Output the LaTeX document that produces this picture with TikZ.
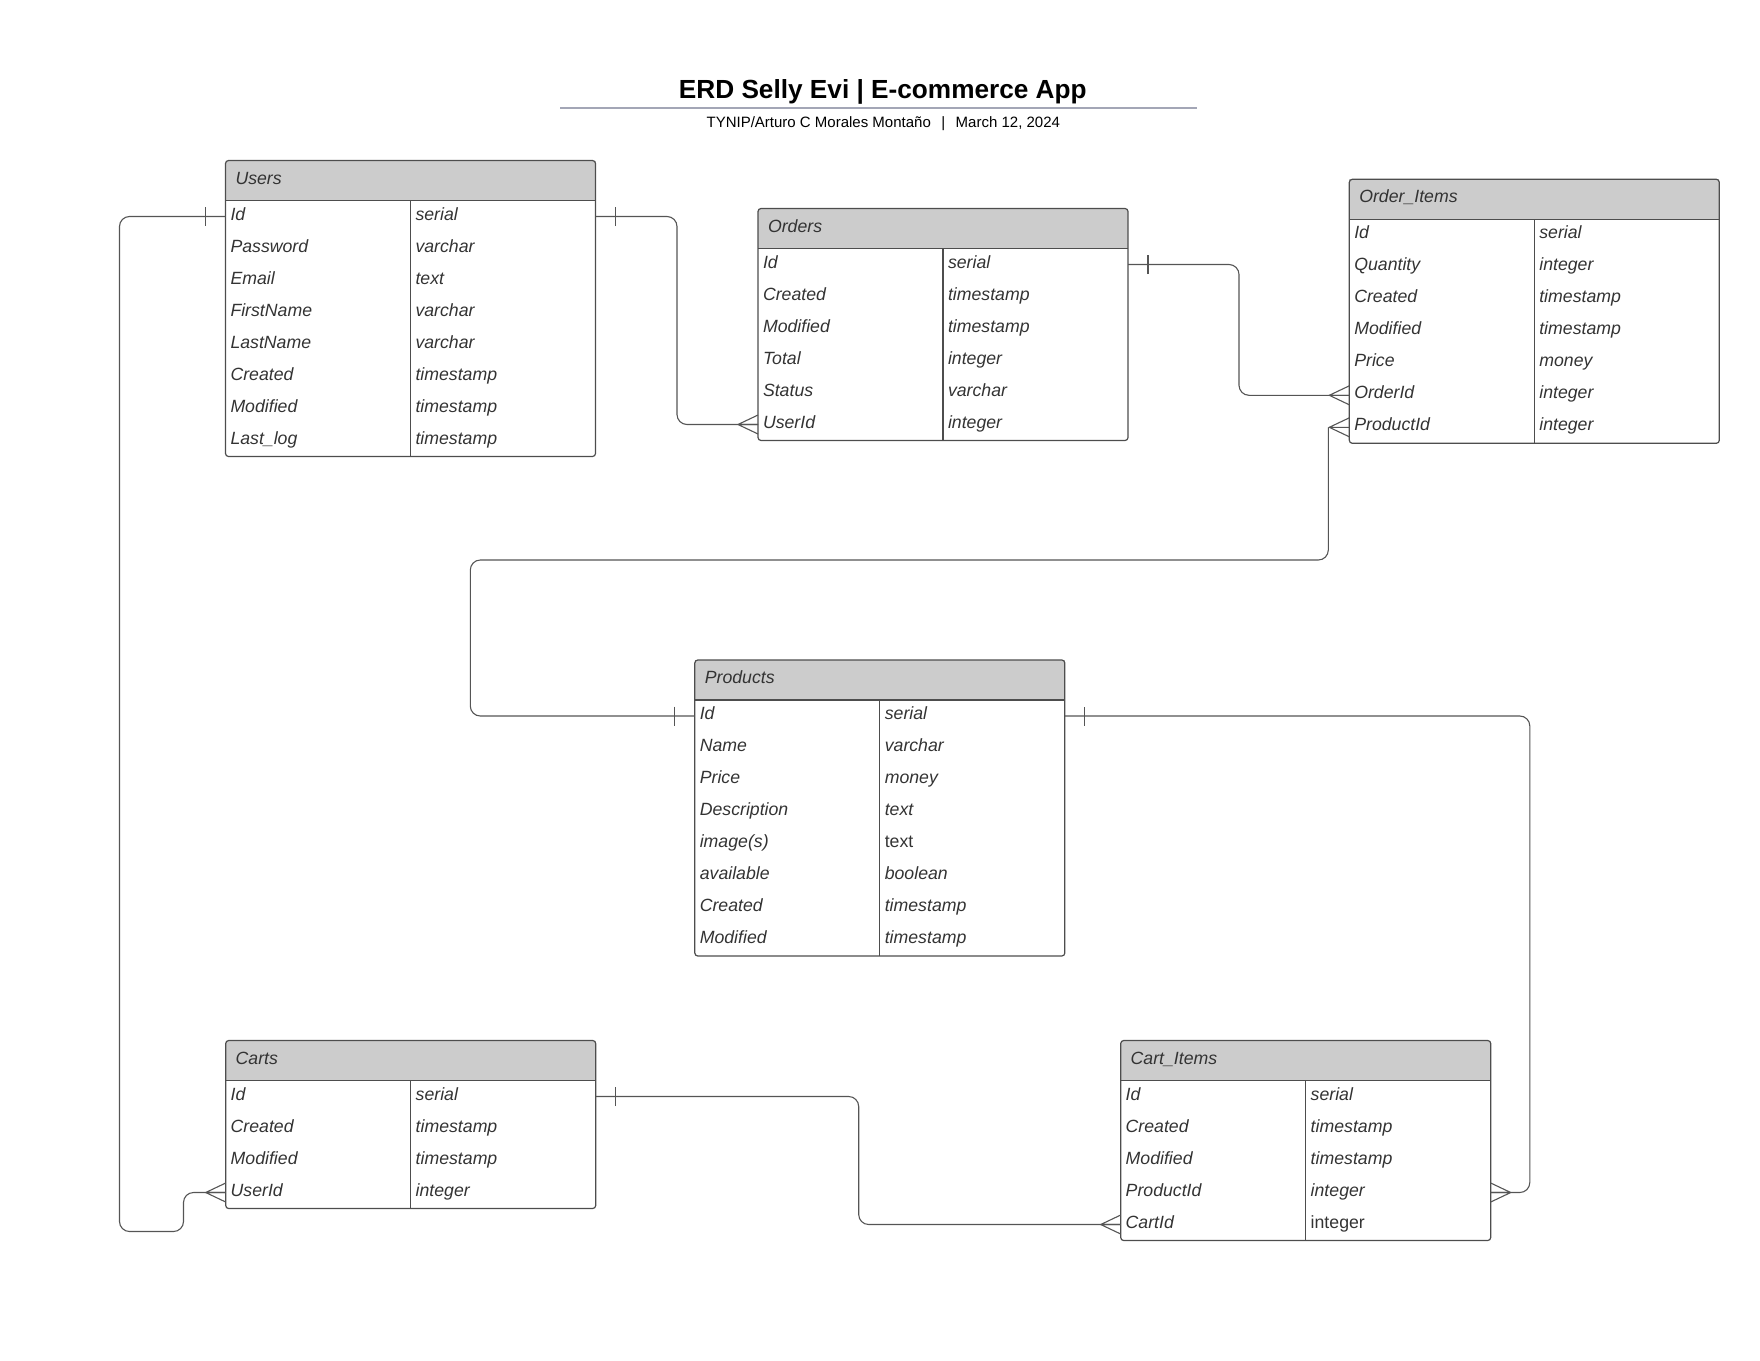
\documentclass[tikz,border=0pt]{standalone}
\usepackage{fontspec}
\setmainfont{Liberation Sans}
\usetikzlibrary{positioning, calc}

\definecolor{hdgray}{HTML}{CCCCCC}
\definecolor{ink}{HTML}{333333}
\definecolor{edge}{HTML}{4D4D4D}
\definecolor{wire}{HTML}{555555}
\definecolor{rulegray}{HTML}{A3A6B6}

\begin{document}
\begin{tikzpicture}[x=1pt, y=-1pt,
  every node/.style={font=\fontsize{17.7}{20}\selectfont\itshape, text=ink, outer sep=0pt},
  hd/.style={fill=hdgray, anchor=north west, minimum width=370pt, minimum height=40pt,
    inner xsep=10pt, inner ysep=0pt, text width=350pt, align=left, text height=13pt, text depth=6pt},
  fld/.style={anchor=north west, minimum width=185pt, minimum height=32pt,
    inner xsep=5pt, inner ysep=0pt, text width=175pt, align=left, text height=13pt, text depth=6pt},
  tblframe/.style={draw=edge, line width=1.2pt, rounded corners=3pt},
  rowline/.style={draw=edge, line width=1.2pt},
  conn/.style={draw=wire, line width=1.1pt, rounded corners=10pt},
  crow/.style={draw=wire, line width=1.1pt},
  onemark/.pic={\draw[crow] (-20,-9.5) -- (-20,9.5);},
  manymark/.pic={\draw[crow] (0,-9.5) -- (-20,0) -- (0,9.5) (-20,0) -- (0,0);}]
\useasboundingbox (0,0) rectangle (1760,1360);

% title block
\node[font=\fontsize{26.2}{30}\selectfont\bfseries, text=black, anchor=base] (title) at (882.8,98) {ERD Selly Evi | E-commerce App};
\draw[rulegray, line width=2pt] (560,107.8) -- (1196.5,107.8);
\node[font=\fontsize{15}{18}\selectfont, text=black, anchor=base] (sub) at (883.3,127) {TYNIP/Arturo C Morales Montaño\hspace{10.5pt}|\hspace{10.5pt}March 12, 2024};

% Users
\node[hd] (users) at (225.5,160.5) {Users};
\foreach \f/\t [count=\i] in {Id/serial, Password/varchar, Email/text, FirstName/varchar,
  LastName/varchar, Created/timestamp, Modified/timestamp, Last\_log/timestamp} {
  \node[fld] (users-f\i) at ($(users.south west)+(0,{32*(\i-1)})$) {\f};
  \node[fld] (users-t\i) at (users-f\i.north east) {\t};
}
\draw[tblframe] (users.north west) rectangle (users-t8.south east);
\draw[rowline] (users.south west) -- (users.south east) (users-t1.north west) -- (users-t8.south west);

% Orders
\node[hd] (orders) at (758,208.5) {Orders};
\foreach \f/\t [count=\i] in {Id/serial, Created/timestamp, Modified/timestamp, Total/integer,
  Status/varchar, UserId/integer} {
  \node[fld] (orders-f\i) at ($(orders.south west)+(0,{32*(\i-1)})$) {\f};
  \node[fld] (orders-t\i) at (orders-f\i.north east) {\t};
}
\draw[tblframe] (orders.north west) rectangle (orders-t6.south east);
\draw[rowline] (orders.south west) -- (orders.south east) (orders-t1.north west) -- (orders-t6.south west);

% Order_Items
\node[hd] (oi) at (1349.3,179.3) {Order\_Items};
\foreach \f/\t [count=\i] in {Id/serial, Quantity/integer, Created/timestamp, Modified/timestamp,
  Price/money, OrderId/integer, ProductId/integer} {
  \node[fld] (oi-f\i) at ($(oi.south west)+(0,{32*(\i-1)})$) {\f};
  \node[fld] (oi-t\i) at (oi-f\i.north east) {\t};
}
\draw[tblframe] (oi.north west) rectangle (oi-t7.south east);
\draw[rowline] (oi.south west) -- (oi.south east) (oi-t1.north west) -- (oi-t7.south west);

% Products
\node[hd] (products) at (694.8,660) {Products};
\foreach \f/\t [count=\i] in {Id/serial, Name/varchar, Price/money, Description/text,
  {image(s)}/{\upshape text}, available/boolean, Created/timestamp, Modified/timestamp} {
  \node[fld] (products-f\i) at ($(products.south west)+(0,{32*(\i-1)})$) {\f};
  \node[fld] (products-t\i) at (products-f\i.north east) {\t};
}
\draw[tblframe] (products.north west) rectangle (products-t8.south east);
\draw[rowline] (products.south west) -- (products.south east) (products-t1.north west) -- (products-t8.south west);

% Carts
\node[hd] (carts) at (225.7,1040.5) {Carts};
\foreach \f/\t [count=\i] in {Id/serial, Created/timestamp, Modified/timestamp, UserId/integer} {
  \node[fld] (carts-f\i) at ($(carts.south west)+(0,{32*(\i-1)})$) {\f};
  \node[fld] (carts-t\i) at (carts-f\i.north east) {\t};
}
\draw[tblframe] (carts.north west) rectangle (carts-t4.south east);
\draw[rowline] (carts.south west) -- (carts.south east) (carts-t1.north west) -- (carts-t4.south west);

% Cart_Items
\node[hd] (ci) at (1120.7,1040.5) {Cart\_Items};
\foreach \f/\t [count=\i] in {Id/serial, Created/timestamp, Modified/timestamp, ProductId/integer,
  CartId/{\upshape integer}} {
  \node[fld] (ci-f\i) at ($(ci.south west)+(0,{32*(\i-1)})$) {\f};
  \node[fld] (ci-t\i) at (ci-f\i.north east) {\t};
}
\draw[tblframe] (ci.north west) rectangle (ci-t5.south east);
\draw[rowline] (ci.south west) -- (ci.south east) (ci-t1.north west) -- (ci-t5.south west);

% relations
\draw[conn] (users-f1.west) -| (119.5,1231.5) -- (183.5,1231.5) |- (carts-f4.west);
\draw[conn] (users-t1.east) -- ++(81.5,0) |- (orders-f6.west);
\draw[conn] (orders-t1.east) -- ++(111,0) |- (oi-f6.west);
\draw[conn] ($(oi-f7.west)+(-21,0)$) |- (470.3,560) |- (products-f1.west);
\draw[conn] (products-t1.east) -- ++(465,0) |- (ci-t4.east);
\draw[conn] (carts-t1.east) -- ++(263,0) |- (ci-f5.west);

\pic at (users-f1.west) {onemark};
\pic[rotate=180] at (users-t1.east) {onemark};
\pic[rotate=180] at (orders-t1.east) {onemark};
\pic at (products-f1.west) {onemark};
\pic[rotate=180] at (products-t1.east) {onemark};
\pic[rotate=180] at (carts-t1.east) {onemark};
\pic at (orders-f6.west) {manymark};
\pic at (oi-f6.west) {manymark};
\pic at (oi-f7.west) {manymark};
\pic at (carts-f4.west) {manymark};
\pic at (ci-f5.west) {manymark};
\pic[rotate=180] at (ci-t4.east) {manymark};
\end{tikzpicture}
\end{document}
